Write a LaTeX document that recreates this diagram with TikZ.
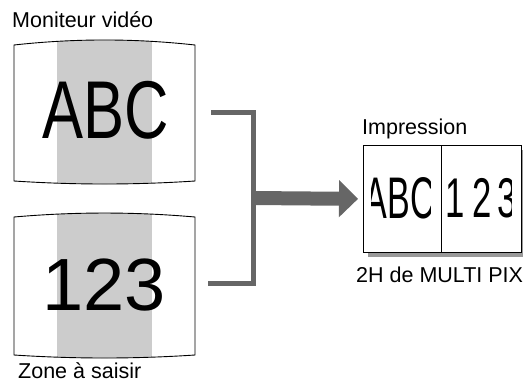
\documentclass[tikz,border=0pt]{standalone}
\usepackage{fontspec}
\setmainfont{Liberation Sans}
\usetikzlibrary{arrows.meta}
\definecolor{zonegray}{HTML}{CCCCCC}
\definecolor{brgray}{HTML}{666666}
\definecolor{shgray}{HTML}{999999}
\begin{document}
\begin{tikzpicture}[x=1pt,y=-1pt,
  lbl/.style={inner sep=0pt,anchor=base west,font=\fontsize{21.5}{26}\selectfont},
  bigtxt/.style={inner sep=0pt},
  prdigit/.style={inner sep=0pt,font=\fontsize{56}{60}\selectfont},
  screen/.style={draw=black,line width=0.9pt},
  bracketline/.style={draw=brgray,line width=5pt},
  printbox/.style={draw=black,line width=0.8pt,fill=white,minimum width=158pt,minimum height=107pt,inner sep=0pt,anchor=north west}
]
\useasboundingbox (0,0) rectangle (523,384);

% Monitor 1
\begin{scope}
\clip (14,45) .. controls (75,38.3) and (134,38.3) .. (195,45) -- (195,181) .. controls (134,185) and (75,185) .. (14,181) -- cycle;
\fill[zonegray] (57,30) rectangle (152,190);
\end{scope}
\draw[screen] (14,45) .. controls (75,38.3) and (134,38.3) .. (195,45) -- (195,181) .. controls (134,185) and (75,185) .. (14,181) -- cycle;
\node[bigtxt] (abc) at (105.5,110.5) {\fontsize{82}{90}\selectfont\scalebox{0.75}[1]{ABC}};

% Monitor 2
\begin{scope}
\clip (14,217) .. controls (75,211.7) and (134,211.7) .. (195,217) -- (195,355) .. controls (134,359) and (75,359) .. (14,355) -- cycle;
\fill[zonegray] (57,205) rectangle (152,365);
\end{scope}
\draw[screen] (14,217) .. controls (75,211.7) and (134,211.7) .. (195,217) -- (195,355) .. controls (134,359) and (75,359) .. (14,355) -- cycle;
\node[bigtxt] (n123) at (104,285.5) {\fontsize{74}{80}\selectfont 123};

% Labels
\node[lbl] (lmon) at (12,27) {Moniteur vidéo};
\node[lbl] (lzone) at (18,378.5) {Zone à saisir};
\node[lbl] (limp) at (362,134) {Impression};
\node[lbl] (lmulti) at (356,282) {2H de MULTI PIX};

% Bracket
\coordinate (bt1) at (211,112);
\coordinate (bt2) at (253,112);
\coordinate (bb1) at (208,283);
\coordinate (bb2) at (253,283);
\coordinate (junc) at (253,198);
\draw[bracketline] (bt1) -- (bt2) -- (bb2) -- (bb1);

% Print
\fill[shgray] (368,150) rectangle (526,257);
\node[printbox] (print) at (363,145) {};
\draw[line width=0.8pt] (441,145) -- (441,252);
\begin{scope}
\clip (371,150) rectangle (430,248);
\node[bigtxt] (pabc) at (400,198) {\fontsize{58.7}{64}\selectfont\scalebox{0.58}[1]{ABC}};
\end{scope}
\begin{scope}
\clip (445,150) rectangle (511,248);
\node[prdigit] (pd1) at (455,198) {\scalebox{0.62}[1]{1}};
\node[prdigit] (pd2) at (482.5,198) {\scalebox{0.62}[1]{2}};
\node[prdigit] (pd3) at (507,198) {\scalebox{0.62}[1]{3}};
\end{scope}

% Arrow
\draw[brgray,line width=14pt,-{Triangle[length=19pt,width=36pt]}] (junc) -- (print.west -| 358,0);
\end{tikzpicture}
\end{document}
